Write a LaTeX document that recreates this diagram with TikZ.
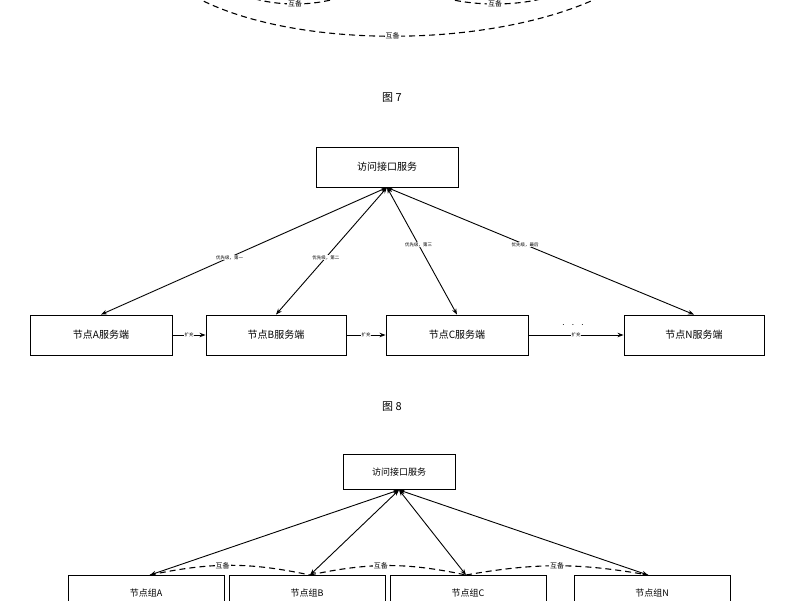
\documentclass[tikz,border=0pt]{standalone}
\usepackage{fontspec}
\setmainfont{Noto Sans CJK SC}
\usetikzlibrary{arrows.meta}
\begin{document}
\begin{tikzpicture}[x=1pt,y=-1pt,
  box/.style={draw,line width=0.9pt,minimum width=#1,minimum height=40pt,inner sep=0pt,font=\fontsize{10}{12}\selectfont},
  box/.default=142pt,
  sbox/.style={draw,line width=0.9pt,minimum width=#1,minimum height=35pt,inner sep=0pt,font=\fontsize{9}{11}\selectfont},
  arr/.style={line width=0.9pt,-{Stealth[length=6pt]}},
  darr/.style={line width=0.9pt,{Stealth[length=6pt]}-{Stealth[length=6pt]}},
  dsh/.style={line width=1.1pt,dash pattern=on 6pt off 4pt},
  tiny/.style={font=\fontsize{4.5}{5}\selectfont,fill=white,inner sep=0.5pt},
  lab/.style={font=\fontsize{7}{8}\selectfont,fill=white,inner sep=1pt},
  captxt/.style={font=\fontsize{11}{13}\selectfont}]
\useasboundingbox (0,0) rectangle (800,600);
% figure 7 remnants
\coordinate (o1) at (170,-20); \coordinate (o2) at (630,-20);
\draw[dsh] (o1) .. controls (260,55) and (520,55) .. node[lab,pos=0.5]{互备} (o2);
\coordinate (l1) at (220,-20); \coordinate (l2) at (370,-20);
\draw[dsh] (l1) .. controls (250,12) and (340,12) .. node[lab,pos=0.5]{互备} (l2);
\coordinate (r1) at (410,-20); \coordinate (r2) at (580,-20);
\draw[dsh] (r1) .. controls (440,12) and (550,12) .. node[lab,pos=0.5]{互备} (r2);
\node[captxt] (c7) at (392,98) {图 7};
% figure 8
\node[box] (top) at (387,167) {访问接口服务};
\node[box] (na) at (101,335) {节点A服务端};
\node[box=140pt] (nb) at (276,335) {节点B服务端};
\node[box] (nc) at (457,335) {节点C服务端};
\node[box=140pt] (nn) at (694,335) {节点N服务端};
\draw[darr] (top.south) -- node[tiny,pos=0.55]{优先级，第一} (na.north);
\draw[darr] (top.south) -- node[tiny,pos=0.55]{优先级，第二} (nb.north);
\draw[darr] (top.south) -- node[tiny,pos=0.45]{优先级，第三} (nc.north);
\draw[darr] (top.south) -- node[tiny,pos=0.45]{优先级，最后} (nn.north);
\draw[arr] (na) -- node[tiny]{扩充} (nb);
\draw[arr] (nb) -- node[tiny]{扩充} (nc);
\draw[arr] (nc) -- node[tiny]{扩充} (nn);
\node[font=\fontsize{10}{10}\selectfont] (dots) at (573,325) {$\cdot\ \ \cdot\ \ \cdot$};
\node[captxt] (c8) at (392,407) {图 8};
% figure 9
\node[sbox=112pt] (t9) at (399,472) {访问接口服务};
\node[sbox=156pt,anchor=north] (ga) at (146,575) {节点组A};
\node[sbox=156pt,anchor=north] (gb) at (307,575) {节点组B};
\node[sbox=156pt,anchor=north] (gc) at (468,575) {节点组C};
\node[sbox=156pt,anchor=north] (gn) at (652,575) {节点组N};
\coordinate (a9) at (150,575); \coordinate (b9) at (310,575);
\coordinate (cc9) at (466,575); \coordinate (n9) at (648,575);
\draw[darr] (t9.south) -- (a9);
\draw[darr] (t9.south) -- (b9);
\draw[darr] (t9.south) -- (cc9);
\draw[darr] (t9.south) -- (n9);
\draw[dsh] (a9) to[bend left=12] node[lab,pos=0.45]{互备} (b9);
\draw[dsh] (b9) to[bend left=12] node[lab,pos=0.45]{互备} (cc9);
\draw[dsh] (cc9) to[bend left=10] node[lab,pos=0.5]{互备} (n9);
\end{tikzpicture}
\end{document}
